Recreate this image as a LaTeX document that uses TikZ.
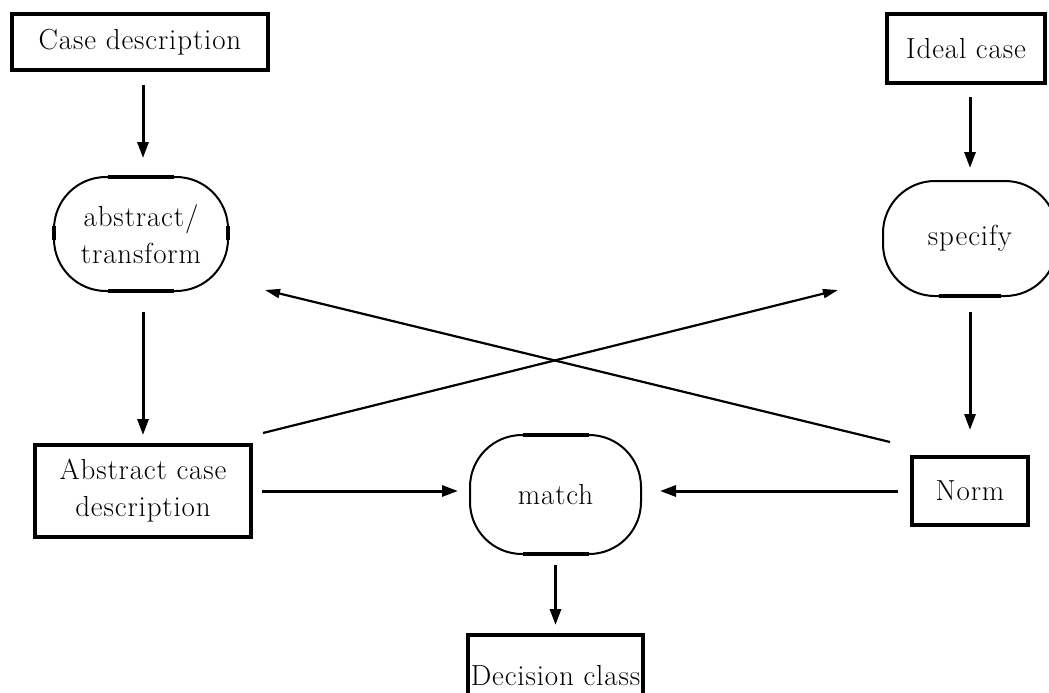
\documentclass[tikz,border=0pt]{standalone}
\usepackage{fontspec}
\usetikzlibrary{arrows.meta,calc}
\newfontfamily\spacedlm{Latin Modern Roman}[LetterSpace=3]
\begin{document}
\begin{tikzpicture}[x=1pt,y=-1pt,
  txt/.style={font=\spacedlm\fontsize{29}{37}\selectfont, align=center},
  sqbox/.style={txt, draw, line width=4pt, rectangle, inner sep=0pt},
  oval/.style={txt, draw, line width=2pt, rounded corners=52pt, inner sep=0pt},
  arr/.style={line width=3pt, -{Triangle[length=16pt,width=11pt]}},
  xarr/.style={line width=2.2pt, -{Triangle[length=15pt,width=9pt]}},
  thk/.style={line width=4pt}]
\useasboundingbox (0,0) rectangle (1049,693);
% shapes with their texts
\node[sqbox, minimum width=256pt, minimum height=56pt] (cd) at (140,42) {Case description};
\node[sqbox, minimum width=158pt, minimum height=69pt] (ic) at (966,48.5) {Ideal case};
\node[oval, minimum width=174pt, minimum height=114pt] (at) at (141,234) {abstract/\\transform};
\node[oval, minimum width=174pt, minimum height=115pt] (sp) at (970,238.5) {specify};
\node[sqbox, minimum width=216pt, minimum height=92pt] (acd) at (143,491) {Abstract case\\description};
\node[oval, minimum width=171pt, minimum height=119pt] (m) at (555.5,494.5) {match};
\node[sqbox, minimum width=116pt, minimum height=68pt] (n) at (970,491) {Norm};
\node[sqbox, minimum width=175pt, minimum height=82pt] (dc) at (555.5,676) {Decision class};
% thick straight parts of the rounded shapes
\draw[thk] ($(at.north)+(-33,1)$) -- ($(at.north)+(33,1)$);
\draw[thk] ($(at.south)+(-33,-1)$) -- ($(at.south)+(33,-1)$);
\draw[thk] ($(at.west)+(1,-8)$) -- ($(at.west)+(1,6)$);
\draw[thk] ($(at.east)+(-1,-8)$) -- ($(at.east)+(-1,6)$);
\draw[thk] ($(sp.south)+(-31,-1)$) -- ($(sp.south)+(31,-1)$);
\draw[thk] ($(m.north)+(-33,1)$) -- ($(m.north)+(33,1)$);
\draw[thk] ($(m.south)+(-33,-1)$) -- ($(m.south)+(33,-1)$);
% connectors
\draw[arr] ($(cd.south)+(3,13)$) -- ($(at.north)+(2,-18)$);
\draw[arr] ($(at.south)+(2,20)$) -- ($(acd.north)+(0,-8)$);
\draw[arr] ($(ic.south)+(4,12)$) -- ($(sp.north)+(0,-12)$);
\draw[arr] ($(sp.south)+(0,15)$) -- ($(n.north)+(0,-25)$);
\draw[arr] ($(acd.east)+(9,0)$) -- ($(m.west |- acd.east)+(-11,0)$);
\draw[arr] ($(n.west)+(-12,0)$) -- ($(m.east |- n.west)+(18,0)$);
\draw[arr] ($(m.south)+(0,10)$) -- ($(dc.north)+(0,-8)$);
\coordinate (c1s) at ($(acd.north east)+(10,-10)$);
\coordinate (c1e) at ($(sp.south west)+(-44,-7)$);
\coordinate (c2s) at ($(n.north west)+(-20,-13)$);
\coordinate (c2e) at ($(at.south east)+(36,-2)$);
\draw[xarr] (c1s) -- (c1e);
\draw[xarr] (c2s) -- (c2e);
\end{tikzpicture}
\end{document}
